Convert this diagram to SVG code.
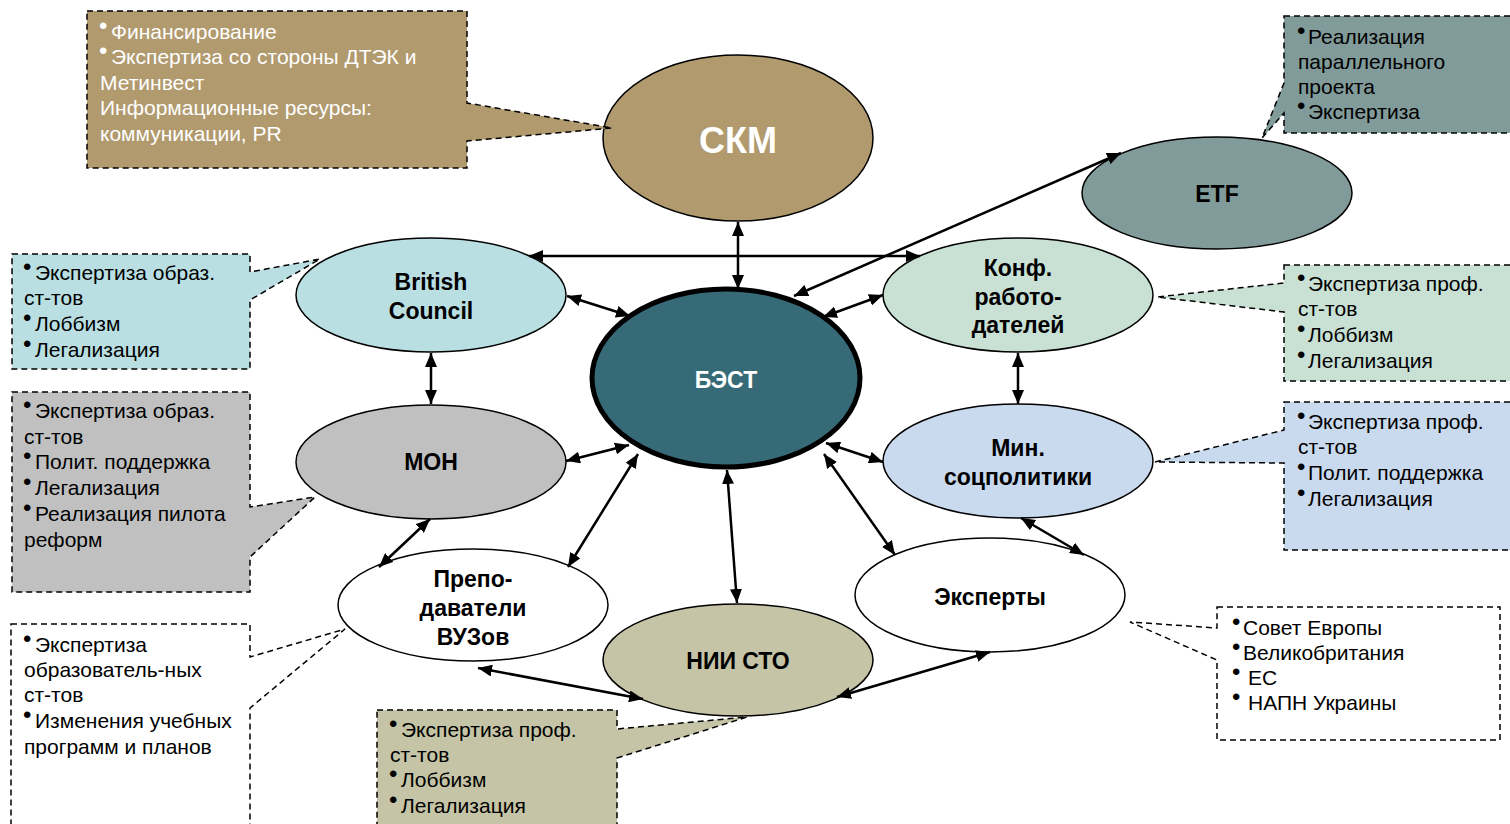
<svg xmlns="http://www.w3.org/2000/svg" width="1510" height="824" viewBox="0 0 1510 824">
<style>
.node ellipse{stroke:#000;stroke-width:1.5}
.lbl{font-family:"Liberation Sans",Arial,sans-serif;font-weight:bold;font-size:23px;text-anchor:middle;fill:#000}
.wl{fill:#fff}
.co path{stroke:#000;stroke-width:1.5;stroke-dasharray:6 4}
.ct{font-family:"Liberation Sans",Arial,sans-serif;font-size:21px;fill:#000}
.ctw{fill:#fff}
.b{font-size:24px}
#connectors line{stroke:#000;stroke-width:2.5;marker-start:url(#ah);marker-end:url(#ah)}
</style>
<defs>
<marker id="ah" viewBox="0 0 14 12" refX="14" refY="6" markerWidth="14" markerHeight="12" markerUnits="userSpaceOnUse" orient="auto-start-reverse">
<path d="M0,0 L14,6 L0,12 Z" fill="#000"/>
</marker>
</defs>
<rect width="1510" height="824" fill="#fff"/>

<g id="node-skm" class="node"><ellipse cx="738" cy="138" rx="135" ry="83" fill="#b09a6e"/><text class="lbl wl" x="738" y="153" style="font-size:36px">СКМ</text></g>
<g id="node-etf" class="node"><ellipse cx="1217" cy="193" rx="135" ry="56" fill="#809b99"/><text class="lbl" x="1217" y="202">ETF</text></g>
<g id="node-bc" class="node"><ellipse cx="431" cy="295" rx="135" ry="57" fill="#b9dfe2"/><text class="lbl" x="431" y="290">British</text><text class="lbl" x="431" y="319">Council</text></g>
<g id="node-konf" class="node"><ellipse cx="1018" cy="295" rx="135" ry="57" fill="#c9e0d5"/><text class="lbl" x="1018" y="276">Конф.</text><text class="lbl" x="1018" y="305">работо-</text><text class="lbl" x="1018" y="333">дателей</text></g>
<g id="node-best"><ellipse cx="726" cy="378" rx="134" ry="89" fill="#376a77" stroke="#000" stroke-width="5"/><text class="lbl wl" x="726" y="388">БЭСТ</text></g>
<g id="node-mon" class="node"><ellipse cx="431" cy="462" rx="135" ry="57" fill="#c0c0c0"/><text class="lbl" x="431" y="470">МОН</text></g>
<g id="node-min" class="node"><ellipse cx="1018" cy="461" rx="135" ry="57" fill="#c9d9ee"/><text class="lbl" x="1018" y="456">Мин.</text><text class="lbl" x="1018" y="485">соцполитики</text></g>
<g id="node-prep" class="node"><ellipse cx="473" cy="605" rx="135" ry="56" fill="#fff"/><text class="lbl" x="473" y="587">Препо-</text><text class="lbl" x="473" y="616">даватели</text><text class="lbl" x="473" y="645">ВУЗов</text></g>
<g id="node-exp" class="node"><ellipse cx="990" cy="595" rx="135" ry="57" fill="#fff"/><text class="lbl" x="990" y="605">Эксперты</text></g>
<g id="node-nii" class="node"><ellipse cx="738" cy="660" rx="135" ry="56" fill="#c5c4a6"/><text class="lbl" x="738" y="669">НИИ СТО</text></g>

<g id="callout-skm" class="co">
<path d="M87,11 H467 V103 L612,128 L467,141 V168 H87 Z" fill="#b09a6e"/>
<text class="ct ctw" x="99" y="39"><tspan class="b" dy="-5">•</tspan><tspan x="111" dy="5">Финансирование</tspan></text>
<text class="ct ctw" x="99" y="64"><tspan class="b" dy="-5">•</tspan><tspan x="111" dy="5">Экспертиза со стороны ДТЭК и</tspan></text>
<text class="ct ctw" x="100" y="90">Метинвест</text>
<text class="ct ctw" x="100" y="115">Информационные ресурсы:</text>
<text class="ct ctw" x="100" y="141">коммуникации, PR</text>
</g>
<g id="callout-etf" class="co">
<path d="M1284,16 H1512 V133 H1284 V113 L1262,138 L1284,83 Z" fill="#809b99"/>
<text class="ct" x="1297" y="44"><tspan class="b" dy="-5">•</tspan><tspan x="1308" dy="5">Реализация</tspan></text>
<text class="ct" x="1298" y="69">параллельного</text>
<text class="ct" x="1298" y="94">проекта</text>
<text class="ct" x="1297" y="119"><tspan class="b" dy="-5">•</tspan><tspan x="1308" dy="5">Экспертиза</tspan></text>
</g>
<g id="callout-bc" class="co">
<path d="M12,254 H250 V272 L320,259 L250,300 V369 H12 Z" fill="#b9dfe2"/>
<text class="ct" x="23" y="280"><tspan class="b" dy="-5">•</tspan><tspan x="35" dy="5">Экспертиза образ.</tspan></text>
<text class="ct" x="24" y="305">ст-тов</text>
<text class="ct" x="23" y="331"><tspan class="b" dy="-5">•</tspan><tspan x="35" dy="5">Лоббизм</tspan></text>
<text class="ct" x="23" y="357"><tspan class="b" dy="-5">•</tspan><tspan x="35" dy="5">Легализация</tspan></text>
</g>
<g id="callout-mon" class="co">
<path d="M12,392 H250 V507 L315,497 L250,557 V592 H12 Z" fill="#c0c0c0"/>
<text class="ct" x="23" y="418"><tspan class="b" dy="-5">•</tspan><tspan x="35" dy="5">Экспертиза образ.</tspan></text>
<text class="ct" x="24" y="444">ст-тов</text>
<text class="ct" x="23" y="469"><tspan class="b" dy="-5">•</tspan><tspan x="35" dy="5">Полит. поддержка</tspan></text>
<text class="ct" x="23" y="495"><tspan class="b" dy="-5">•</tspan><tspan x="35" dy="5">Легализация</tspan></text>
<text class="ct" x="23" y="521"><tspan class="b" dy="-5">•</tspan><tspan x="35" dy="5">Реализация пилота</tspan></text>
<text class="ct" x="24" y="547">реформ</text>
</g>
<g id="callout-konf" class="co">
<path d="M1284,265 H1512 V381 H1284 V312 L1157,297 L1284,283 Z" fill="#c9e0d5"/>
<text class="ct" x="1297" y="291"><tspan class="b" dy="-5">•</tspan><tspan x="1308" dy="5">Экспертиза проф.</tspan></text>
<text class="ct" x="1298" y="316">ст-тов</text>
<text class="ct" x="1297" y="342"><tspan class="b" dy="-5">•</tspan><tspan x="1308" dy="5">Лоббизм</tspan></text>
<text class="ct" x="1297" y="368"><tspan class="b" dy="-5">•</tspan><tspan x="1308" dy="5">Легализация</tspan></text>
</g>
<g id="callout-min" class="co">
<path d="M1284,402 H1512 V550 H1284 V463 L1155,462 L1284,430 Z" fill="#c9d9ee"/>
<text class="ct" x="1297" y="429"><tspan class="b" dy="-5">•</tspan><tspan x="1308" dy="5">Экспертиза проф.</tspan></text>
<text class="ct" x="1298" y="454">ст-тов</text>
<text class="ct" x="1297" y="480"><tspan class="b" dy="-5">•</tspan><tspan x="1308" dy="5">Полит. поддержка</tspan></text>
<text class="ct" x="1297" y="506"><tspan class="b" dy="-5">•</tspan><tspan x="1308" dy="5">Легализация</tspan></text>
</g>
<g id="callout-prep" class="co">
<path d="M11,624 H250 V657 L345,629 L250,708 V830 H11 Z" fill="#fff"/>
<text class="ct" x="23" y="652"><tspan class="b" dy="-5">•</tspan><tspan x="35" dy="5">Экспертиза</tspan></text>
<text class="ct" x="24" y="677">образователь-ных</text>
<text class="ct" x="24" y="702">ст-тов</text>
<text class="ct" x="23" y="728"><tspan class="b" dy="-5">•</tspan><tspan x="35" dy="5">Изменения учебных</tspan></text>
<text class="ct" x="24" y="754">программ и планов</text>
</g>
<g id="callout-nii" class="co">
<path d="M377,710 H617 V729 L747,717 L617,758 V830 H377 Z" fill="#c5c4a6"/>
<text class="ct" x="389" y="737"><tspan class="b" dy="-5">•</tspan><tspan x="401" dy="5">Экспертиза проф.</tspan></text>
<text class="ct" x="390" y="762">ст-тов</text>
<text class="ct" x="389" y="787"><tspan class="b" dy="-5">•</tspan><tspan x="401" dy="5">Лоббизм</tspan></text>
<text class="ct" x="389" y="813"><tspan class="b" dy="-5">•</tspan><tspan x="401" dy="5">Легализация</tspan></text>
</g>
<g id="callout-exp" class="co">
<path d="M1217,607 H1500 V740 H1217 V660 L1130,622 L1217,628 Z" fill="#fff"/>
<text class="ct" x="1232" y="635"><tspan class="b" dy="-5">•</tspan><tspan x="1243" dy="5">Совет Европы</tspan></text>
<text class="ct" x="1232" y="660"><tspan class="b" dy="-5">•</tspan><tspan x="1243" dy="5">Великобритания</tspan></text>
<text class="ct" x="1232" y="685"><tspan class="b" dy="-5">•</tspan><tspan x="1248" dy="5">ЕС</tspan></text>
<text class="ct" x="1232" y="710"><tspan class="b" dy="-5">•</tspan><tspan x="1248" dy="5">НАПН Украины</tspan></text>
</g>

<g id="connectors">
<line x1="738" y1="222" x2="738" y2="289"/>
<line x1="529" y1="256" x2="920" y2="256"/>
<line x1="567" y1="296" x2="630" y2="316"/>
<line x1="883" y1="295" x2="823" y2="317"/>
<line x1="794" y1="296" x2="1121" y2="153"/>
<line x1="431" y1="353" x2="431" y2="404"/>
<line x1="1018" y1="353" x2="1018" y2="404"/>
<line x1="566" y1="461" x2="629" y2="445"/>
<line x1="883" y1="462" x2="826" y2="443"/>
<line x1="638" y1="454" x2="568" y2="567"/>
<line x1="824" y1="454" x2="895" y2="555"/>
<line x1="727" y1="470" x2="737" y2="603"/>
<line x1="430" y1="519" x2="379" y2="567"/>
<line x1="1021" y1="518" x2="1084" y2="555"/>
<line x1="478" y1="668" x2="643" y2="699"/>
<line x1="837" y1="697" x2="990" y2="652"/>
</g>
</svg>
